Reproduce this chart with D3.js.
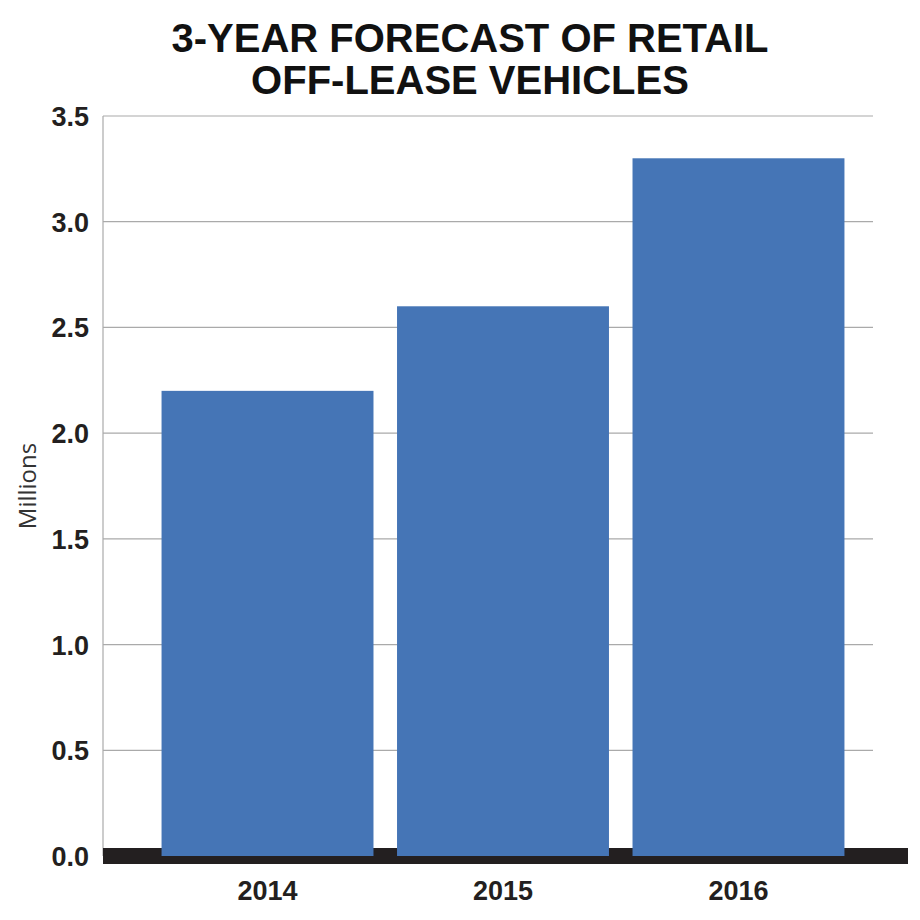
<!DOCTYPE html>
<html><head><meta charset="utf-8">
<script src="https://cdn.jsdelivr.net/npm/d3@7"></script>
<style>body{margin:0;background:#fff}</style>
</head><body>
<div id="chart"></div>
<script>
const years = ["2014", "2015", "2016"]
const values = [2.2, 2.6, 3.3]
const yTicks = [0, 0.5, 1, 1.5, 2, 2.5, 3, 3.5]

const width = 920, height = 920
const margin = { top: 116, right: 47, bottom: 64, left: 103 }
const font = "'Liberation Sans Narrow', 'Liberation Sans', sans-serif"

const svg = d3.select("#chart").append("svg")
    .attr("width", width).attr("height", height)

const x = d3.scaleBand().domain(years)
    .range([margin.left + 35, width - margin.right - 5])
    .paddingInner(0.1).paddingOuter(0.1)
const y = d3.scaleLinear().domain([0, 3.5]).range([height - margin.bottom, margin.top])

// gridlines
svg.append("g").selectAll("line").data(yTicks.slice(1)).enter().append("line")
    .attr("x1", margin.left).attr("x2", width - margin.right)
    .attr("y1", d => y(d)).attr("y2", d => y(d))
    .attr("stroke", "#aaa").attr("stroke-width", 1.2)

svg.append("line").attr("x1", margin.left).attr("x2", margin.left)
    .attr("y1", y(3.5)).attr("y2", y(0)).attr("stroke", "#aaa").attr("stroke-width", 1.2)

// baseline band
svg.append("rect").attr("x", margin.left).attr("y", y(0) - 8)
    .attr("width", 908 - margin.left).attr("height", 16).attr("fill", "#231f20")

svg.append("g").selectAll("rect").data(values).enter().append("rect")
    .attr("x", (d, i) => x(years[i])).attr("width", x.bandwidth())
    .attr("y", d => y(d)).attr("height", d => y(0) - y(d))
    .attr("fill", "#4575b6")

svg.append("g").selectAll("text").data(yTicks).enter().append("text")
    .attr("x", margin.left - 14).attr("y", d => y(d) + 10)
    .attr("text-anchor", "end").style("font-family", font).style("font-weight", "bold")
    .style("font-size", "27px").attr("fill", "#231f20").text(d => d.toFixed(1))

svg.append("g").selectAll("text").data(years).enter().append("text")
    .attr("x", d => x(d) + x.bandwidth() / 2).attr("y", 900)
    .attr("text-anchor", "middle").style("font-family", font).style("font-weight", "bold")
    .style("font-size", "27px").attr("fill", "#231f20").text(d => d)

svg.append("text").attr("transform", `translate(36,${(y(0) + y(3.5)) / 2}) rotate(-90)`)
    .attr("text-anchor", "middle").style("font-family", "'Open Sans', sans-serif")
    .style("font-size", "24px").attr("fill", "#333").text("Millions")

const title = ["3-YEAR FORECAST OF RETAIL", "OFF-LEASE VEHICLES"]
svg.append("g").selectAll("text").data(title).enter().append("text")
    .attr("x", 470).attr("y", (d, i) => 52 + i * 42)
    .attr("text-anchor", "middle").style("font-family", font).style("font-weight", "bold")
    .style("font-size", "40px").attr("fill", "#111").text(d => d)
</script>
</body></html>
